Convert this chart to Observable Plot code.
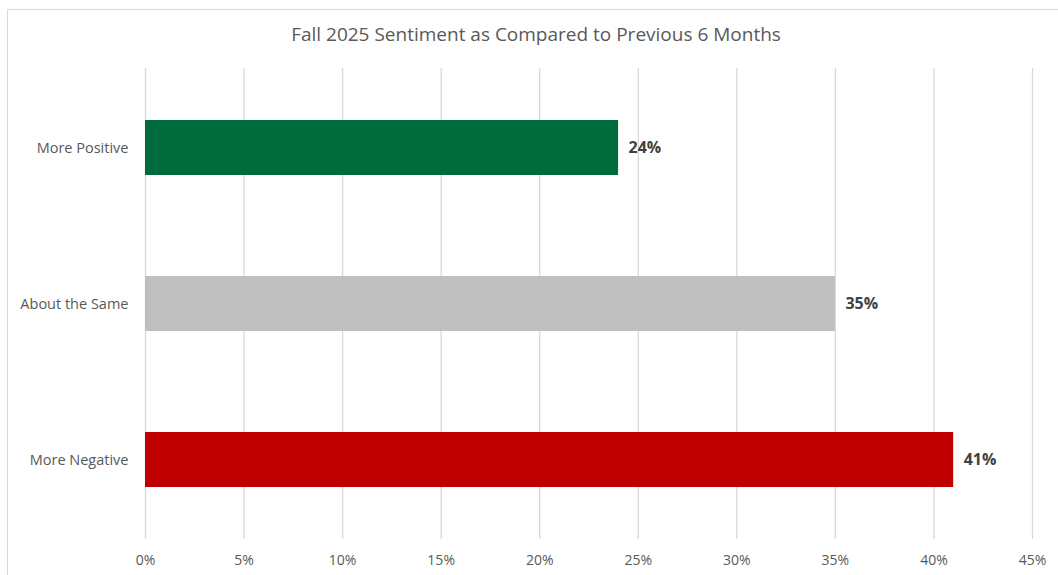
<!DOCTYPE html>
<html>
<head>
<meta charset="utf-8">
<script src="https://cdn.jsdelivr.net/npm/d3@7"></script>
<script src="https://cdn.jsdelivr.net/npm/@observablehq/plot@0.6"></script>
<style>
  html, body { margin: 0; padding: 0; background: #fff; overflow: hidden; }
  #wrap { position: relative; width: 1058px; height: 575px; }
  #frame { position: absolute; left: 7px; top: 9px; width: 1058px; height: 580px; border: 1.5px solid #d9d9d9; box-sizing: border-box; }
  #title { position: absolute; left: 7px; width: 1058px; top: 21px; text-align: center; font-family: "Open Sans", sans-serif; font-size: 19px; color: #595959; }
  #chart { position: absolute; left: 0; top: 0; }
</style>
</head>
<body>
<div id="wrap">
  <div id="frame"></div>
  <div id="title">Fall 2025 Sentiment as Compared to Previous 6 Months</div>
  <div id="chart"></div>
</div>
<script>
const categories = ["More Positive", "About the Same", "More Negative"];
const values = [24, 35, 41];
const barColors = ["#006B3C", "#BFBFBF", "#C00000"];
const xTicks = [0, 5, 10, 15, 20, 25, 30, 35, 40, 45];

const data = categories.map((c, i) => ({category: c, value: values[i], color: barColors[i]}));

const chart = Plot.plot({
  width: 1058,
  height: 575,
  marginLeft: 145,
  marginRight: 26,
  marginTop: 68,
  marginBottom: 36,
  style: {fontFamily: "Open Sans, sans-serif", background: "transparent"},
  x: {domain: [0, 45], ticks: xTicks},
  y: {domain: categories, paddingInner: 0.65, paddingOuter: 0.33},
  marks: [
    Plot.ruleX(xTicks, {stroke: "#d9d9d9", strokeWidth: 1.3}),
    Plot.barX(data, {x: "value", y: "category", fill: "color"}),
    Plot.text(data, {x: "value", y: "category", text: d => d.value + "%", textAnchor: "start", dx: 10, fill: "#404040", fontWeight: "bold", fontSize: 16}),
    Plot.axisX({ticks: xTicks, tickFormat: d => d + "%", tickSize: 0, tickPadding: 16, fontSize: 14, color: "#595959", label: null}),
    Plot.axisY({tickSize: 0, tickPadding: 17, fontSize: 14.5, color: "#595959", label: null})
  ]
});
document.getElementById("chart").appendChild(chart);
</script>
</body>
</html>
